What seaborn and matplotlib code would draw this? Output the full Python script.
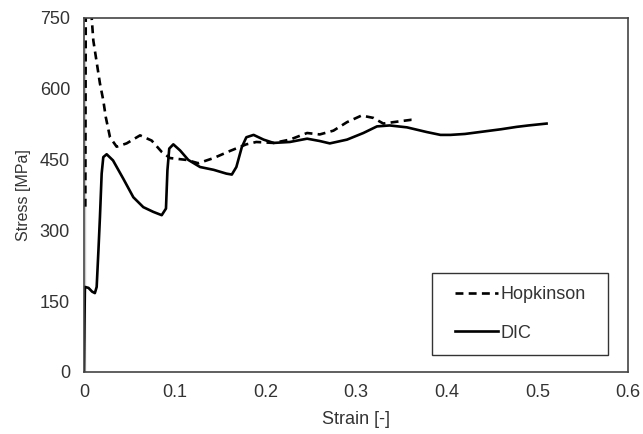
import seaborn as sns
import matplotlib.pyplot as plt
from matplotlib.patches import Rectangle

# Hopkinson bar result
hop_strain = [0.0015, 0.0015, 0.002, 0.007, 0.0085, 0.0103, 0.014, 0.0176, 0.0213, 0.024,
              0.0287, 0.036, 0.047, 0.0618, 0.0746, 0.0857, 0.0948, 0.113, 0.126, 0.143,
              0.161, 0.179, 0.190, 0.209, 0.227, 0.246, 0.260, 0.275, 0.290, 0.306,
              0.319, 0.330, 0.345, 0.361, 0.366]
hop_stress = [0, 700, 800, 800, 750, 702, 656, 611, 575, 540,
              497, 477, 484, 501, 490, 466, 453, 449, 442, 453,
              468, 482, 487, 485, 492, 506, 503, 511, 529, 543,
              538, 526, 530, 534, 534]

# DIC result
dic_strain = [0.0, 0.0005, 0.001, 0.005, 0.009, 0.012, 0.014, 0.016, 0.0176, 0.0195,
              0.0213, 0.025, 0.032, 0.0434, 0.0544, 0.0654, 0.0764, 0.0857, 0.0904, 0.092,
              0.094, 0.0985, 0.106, 0.115, 0.128, 0.143, 0.157, 0.163, 0.168, 0.174,
              0.179, 0.187, 0.198, 0.209, 0.227, 0.246, 0.260, 0.271, 0.290, 0.308,
              0.323, 0.337, 0.356, 0.378, 0.393, 0.404, 0.420, 0.440, 0.460, 0.477,
              0.490, 0.510]
dic_stress = [0, 100, 180, 178, 170, 167, 180, 260, 328, 420,
              455, 461, 448, 409, 370, 349, 339, 332, 346, 427,
              473, 482, 469, 449, 434, 428, 420, 418, 434, 476,
              497, 502, 492, 485, 487, 494, 489, 484, 492, 506,
              520, 522, 518, 508, 502, 502, 504, 509, 514, 519,
              522, 526]

plt.rcParams['font.family'] = ['Liberation Sans', 'DejaVu Sans']
plt.rcParams['font.size'] = 13
text_col = '#333333'

fig, ax = plt.subplots(figsize=(6.43, 4.34), dpi=100)
fig.subplots_adjust(left=0.1306, right=0.977, bottom=0.143, top=0.959)

sns.lineplot(x=hop_strain, y=hop_stress, ax=ax, sort=False, color='black',
             lw=1.9, label='Hopkinson', linestyle=(0, (3, 2)),
             dash_joinstyle='round', dash_capstyle='butt')
sns.lineplot(x=dic_strain, y=dic_stress, ax=ax, sort=False, color='black',
             lw=1.9, label='DIC', solid_joinstyle='round')

ax.set_xlim(0, 0.6)
ax.set_ylim(0, 750)
ax.set_xticks([0, 0.1, 0.2, 0.3, 0.4, 0.5, 0.6])
ax.set_xticklabels(['0', '0.1', '0.2', '0.3', '0.4', '0.5', '0.6'])
ax.set_yticks([0, 150, 300, 450, 600, 750])
ax.tick_params(length=0, colors=text_col)
ax.tick_params(axis='x', pad=9)
ax.tick_params(axis='y', pad=10)
ax.set_xlabel('Strain [-]', color=text_col, fontsize=13, labelpad=7)
ax.set_ylabel('Stress [MPa]', color=text_col, fontsize=11.5, labelpad=6)
for s in ax.spines.values():
    s.set_color('#444444')
    s.set_linewidth(1.2)

# legend frame drawn as its own box, legend entries centred in it
bx, by, bw, bh = 0.640, 0.048, 0.3235, 0.2316
ax.add_patch(Rectangle((bx, by), bw, bh, transform=ax.transAxes, facecolor='white',
                       edgecolor='#333333', lw=1.0, zorder=4))
leg = ax.legend(loc='center', bbox_to_anchor=(bx + bw / 2, by + bh / 2), frameon=False,
                handlelength=2.4, handletextpad=0.15, labelspacing=1.2, borderpad=0,
                borderaxespad=0, fontsize=13)
leg.set_zorder(5)
for t in leg.get_texts():
    t.set_color(text_col)

fig.savefig('out.png', dpi=100)
